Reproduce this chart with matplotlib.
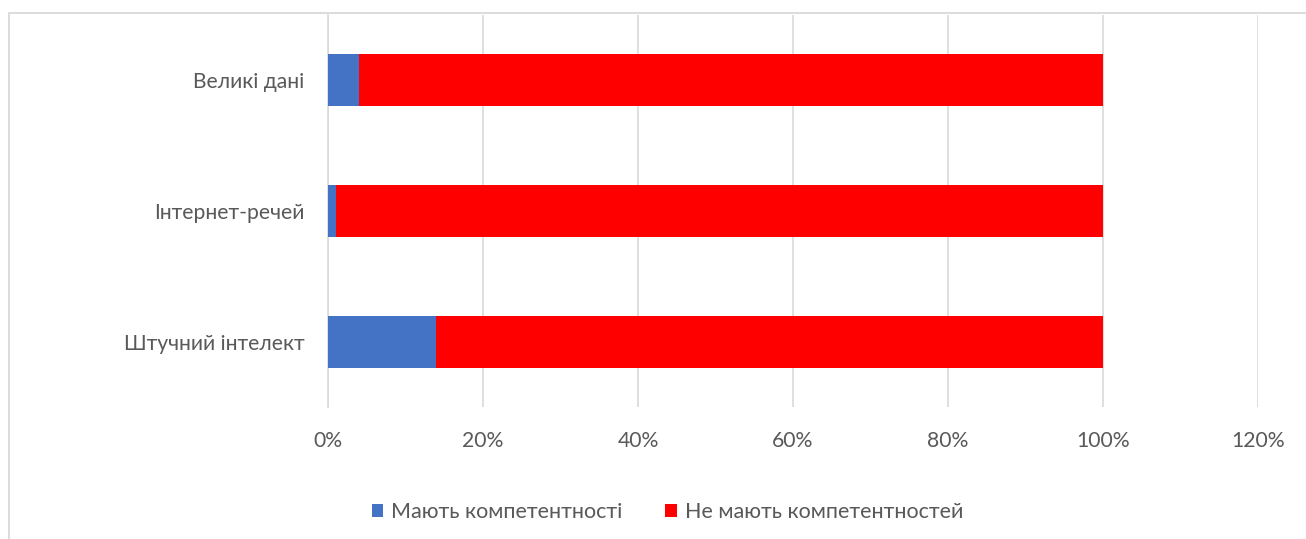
#!/usr/bin/env python3
"""Stacked horizontal bar chart: competences in digital technologies."""

import matplotlib.pyplot as plt
import numpy as np
from matplotlib.patches import Rectangle
from matplotlib.ticker import FuncFormatter

categories = ["Штучний інтелект", "Інтернет-речей", "Великі дані"]
have = [14, 1, 4]
have_not = [86, 99, 96]
series_labels = ["Мають компетентності", "Не мають компетентностей"]
x_ticks = [0, 20, 40, 60, 80, 100, 120]

BLUE = "#4472C4"
RED = "#FF0000"
GRID = "#D9D9D9"
TEXT = "#595959"


def main() -> None:
    plt.rcParams["font.family"] = ["Lato", "DejaVu Sans"]

    fig = plt.figure(figsize=(13.06, 5.39), dpi=100)
    ax = fig.add_axes([328 / 1306, 1 - 407 / 539, (1258 - 328) / 1306, (407 - 15) / 539])

    # chart border (cut by the image edges on the right and bottom)
    fig.patches.append(
        Rectangle((9 / 1306, -0.1), 1.2, 1.1 - 13 / 539, transform=fig.transFigure,
                  fill=False, edgecolor=GRID, linewidth=1.3, zorder=0)
    )

    y = np.arange(len(categories))
    ax.barh(y, have, height=0.4, color=BLUE, label=series_labels[0], zorder=3)
    ax.barh(y, have_not, left=have, height=0.4, color=RED, label=series_labels[1], zorder=3)

    ax.set_xlim(0, 120)
    ax.set_ylim(-0.5, len(categories) - 0.5)
    ax.set_xticks(x_ticks)
    ax.xaxis.set_major_formatter(FuncFormatter(lambda v, _: f"{v:.0f}%"))
    ax.set_yticks(y)
    ax.set_yticklabels(categories)

    ax.grid(axis="x", color=GRID, linewidth=1.2, zorder=0)
    for side in ("top", "right", "bottom"):
        ax.spines[side].set_visible(False)
    ax.spines["left"].set_color(GRID)
    ax.spines["left"].set_linewidth(1.2)
    ax.tick_params(axis="both", length=0, labelsize=15.2, labelcolor=TEXT)
    ax.tick_params(axis="x", pad=17)
    ax.tick_params(axis="y", pad=17)

    fig.legend(loc="center", bbox_to_anchor=(0.511, 1 - 512 / 539), ncol=2, frameon=False,
               fontsize=15.5, labelcolor=TEXT, handlelength=0.55, handleheight=0.55,
               handletextpad=0.35, columnspacing=2.0)

    fig.savefig("out.png", dpi=100)
    plt.close(fig)


if __name__ == "__main__":
    main()
